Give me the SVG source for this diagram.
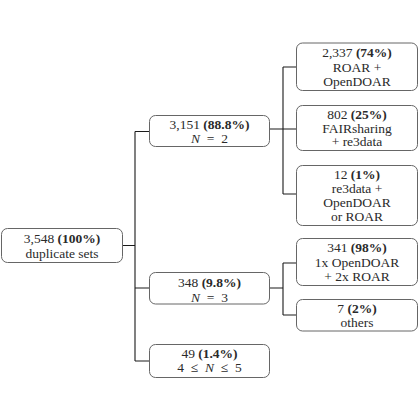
<svg xmlns="http://www.w3.org/2000/svg" width="420" height="420" viewBox="0 0 420 420">
<style>
.box{fill:#fff;stroke:#666;stroke-width:1}
.t{font-family:'Liberation Serif',serif;font-size:13.5px;fill:#2a2a2a;text-anchor:middle;white-space:pre}
.b{font-weight:bold}
.i{font-style:italic}
.c{fill:none;stroke:#1a1a1a;stroke-width:1.1}
</style>
<rect width="420" height="420" fill="#fff"/>
<g id="connectors">
<path class="c" d="M122.5 245.5H135M135 131.5V361M135 131.5H149M135 288H149M135 361H149"/>
<path class="c" d="M269.5 129H283M283 67V194M283 67H296M283 129H296M283 194H296"/>
<path class="c" d="M269.5 288H283M283 263V315M283 263H296M283 315H296"/>
</g>
<g id="root">
<rect class="box" x="1.5" y="228.5" width="121" height="34" rx="6"/>
<text class="t" x="62" y="242.5" font-family="Liberation Serif">3,548 <tspan class="b">(100%)</tspan></text>
<text class="t" x="62" y="257.5" font-family="Liberation Serif">duplicate sets</text>
</g>
<g id="n2">
<rect class="box" x="149.5" y="115.5" width="120" height="31" rx="6"/>
<text class="t" x="209.5" y="128.5" font-family="Liberation Serif">3,151 <tspan class="b">(88.8%)</tspan></text>
<text class="t" x="209.5" y="143" font-family="Liberation Serif" xml:space="preserve"><tspan class="i">N</tspan>  =  2</text>
</g>
<g id="n3">
<rect class="box" x="149.5" y="272.5" width="120" height="31.5" rx="6"/>
<text class="t" x="209.5" y="286.5" font-family="Liberation Serif">348 <tspan class="b">(9.8%)</tspan></text>
<text class="t" x="209.5" y="301.5" font-family="Liberation Serif" xml:space="preserve"><tspan class="i">N</tspan>  =  3</text>
</g>
<g id="n45">
<rect class="box" x="149.5" y="344.5" width="120" height="33" rx="6"/>
<text class="t" x="209.5" y="358" font-family="Liberation Serif">49 <tspan class="b">(1.4%)</tspan></text>
<text class="t" x="209.5" y="371.5" font-family="Liberation Serif" xml:space="preserve">4  ≤  <tspan class="i">N</tspan>  ≤  5</text>
</g>
<g id="roar-opendoar">
<rect class="box" x="296.5" y="43" width="121" height="47.5" rx="6"/>
<text class="t" x="357" y="57" font-family="Liberation Serif">2,337 <tspan class="b">(74%)</tspan></text>
<text class="t" x="357" y="71.5" font-family="Liberation Serif">ROAR +</text>
<text class="t" x="357" y="85.5" font-family="Liberation Serif">OpenDOAR</text>
</g>
<g id="fairsharing-re3data">
<rect class="box" x="296.5" y="105.5" width="121" height="45" rx="6"/>
<text class="t" x="357" y="118.5" font-family="Liberation Serif">802 <tspan class="b">(25%)</tspan></text>
<text class="t" x="357" y="132.5" font-family="Liberation Serif">FAIRsharing</text>
<text class="t" x="357" y="146" font-family="Liberation Serif">+ re3data</text>
</g>
<g id="re3data-other">
<rect class="box" x="296.5" y="165.5" width="121" height="60" rx="6"/>
<text class="t" x="357" y="179" font-family="Liberation Serif">12 <tspan class="b">(1%)</tspan></text>
<text class="t" x="357" y="193" font-family="Liberation Serif">re3data +</text>
<text class="t" x="357" y="207" font-family="Liberation Serif">OpenDOAR</text>
<text class="t" x="357" y="221" font-family="Liberation Serif">or ROAR</text>
</g>
<g id="opendoar-2roar">
<rect class="box" x="296.5" y="238.5" width="121" height="47" rx="6"/>
<text class="t" x="357" y="252" font-family="Liberation Serif">341 <tspan class="b">(98%)</tspan></text>
<text class="t" x="357" y="266.5" font-family="Liberation Serif">1x OpenDOAR</text>
<text class="t" x="357" y="280.5" font-family="Liberation Serif">+ 2x ROAR</text>
</g>
<g id="others">
<rect class="box" x="296.5" y="299.5" width="121" height="31.5" rx="6"/>
<text class="t" x="357" y="313" font-family="Liberation Serif">7 <tspan class="b">(2%)</tspan></text>
<text class="t" x="357" y="327" font-family="Liberation Serif">others</text>
</g>
</svg>
